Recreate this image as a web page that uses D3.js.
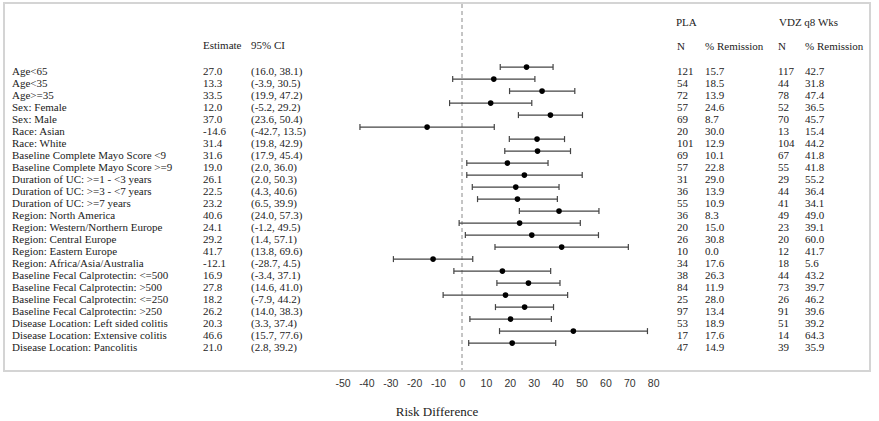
<!DOCTYPE html>
<html>
<head>
<meta charset="utf-8">
<script src="https://cdn.jsdelivr.net/npm/d3@7"></script>
<style>
  body { margin: 0; background: #fff; }
</style>
</head>
<body>
<div id="chart"></div>
<script>
// subgroup labels
const labels = [
    "Age<65", "Age<35", "Age>=35", "Sex: Female", "Sex: Male",
    "Race: Asian", "Race: White",
    "Baseline Complete Mayo Score <9", "Baseline Complete Mayo Score >=9",
    "Duration of UC: >=1 - <3 years", "Duration of UC: >=3 - <7 years", "Duration of UC: >=7 years",
    "Region: North America", "Region: Western/Northern Europe", "Region: Central Europe",
    "Region: Eastern Europe", "Region: Africa/Asia/Australia",
    "Baseline Fecal Calprotectin: <=500", "Baseline Fecal Calprotectin: >500",
    "Baseline Fecal Calprotectin: <=250", "Baseline Fecal Calprotectin: >250",
    "Disease Location: Left sided colitis", "Disease Location: Extensive colitis",
    "Disease Location: Pancolitis"
];
const estimate = [27.0, 13.3, 33.5, 12.0, 37.0, -14.6, 31.4, 31.6, 19.0, 26.1, 22.5, 23.2,
    40.6, 24.1, 29.2, 41.7, -12.1, 16.9, 27.8, 18.2, 26.2, 20.3, 46.6, 21.0];
const ciLow = [16.0, -3.9, 19.9, -5.2, 23.6, -42.7, 19.8, 17.9, 2.0, 2.0, 4.3, 6.5,
    24.0, -1.2, 1.4, 13.8, -28.7, -3.4, 14.6, -7.9, 14.0, 3.3, 15.7, 2.8];
const ciHigh = [38.1, 30.5, 47.2, 29.2, 50.4, 13.5, 42.9, 45.4, 36.0, 50.3, 40.6, 39.9,
    57.3, 49.5, 57.1, 69.6, 4.5, 37.1, 41.0, 44.2, 38.3, 37.4, 77.6, 39.2];
const plaN = [121, 54, 72, 57, 69, 20, 101, 69, 57, 31, 36, 55, 36, 20, 26, 10, 34, 38, 84, 25, 97, 53, 17, 47];
const plaRem = [15.7, 18.5, 13.9, 24.6, 8.7, 30.0, 12.9, 10.1, 22.8, 29.0, 13.9, 10.9,
    8.3, 15.0, 30.8, 0.0, 17.6, 26.3, 11.9, 28.0, 13.4, 18.9, 17.6, 14.9];
const vdzN = [117, 44, 78, 52, 70, 13, 104, 67, 55, 29, 44, 41, 49, 23, 20, 12, 18, 44, 73, 26, 91, 51, 14, 39];
const vdzRem = [42.7, 31.8, 47.4, 36.5, 45.7, 15.4, 44.2, 41.8, 41.8, 55.2, 36.4, 34.1,
    49.0, 39.1, 60.0, 41.7, 5.6, 43.2, 39.7, 46.2, 39.6, 39.2, 64.3, 35.9];
const xTicks = [-50, -40, -30, -20, -10, 0, 10, 20, 30, 40, 50, 60, 70, 80];

const rows = labels.map((d, i) => ({
    label: d, est: estimate[i], lo: ciLow[i], hi: ciHigh[i],
    plaN: plaN[i], plaRem: plaRem[i], vdzN: vdzN[i], vdzRem: vdzRem[i]
}));

const width = 879, height = 421;
const frame = {left: 4, top: 3, right: 870, bottom: 371};
const serif = "'Liberation Serif', 'Times New Roman', serif";
const sans = "'Liberation Sans', Arial, sans-serif";

const svg = d3.select("#chart").append("svg")
    .attr("width", width)
    .attr("height", height)
    .style("font-family", serif);

const xScale = d3.scaleLinear().domain([-50, 80]).range([342.5, 653.2]);
const yScale = d3.scalePoint().domain(labels).range([70.7, 346.7]);
const barShift = -3.6;

// frame
svg.append("rect")
    .attr("x", frame.left).attr("y", frame.top)
    .attr("width", frame.right - frame.left)
    .attr("height", frame.bottom - frame.top)
    .attr("fill", "none")
    .attr("stroke", "#d4d4d4")
    .attr("stroke-width", 2);

// reference line at 0
svg.append("line")
    .attr("x1", xScale(0)).attr("x2", xScale(0))
    .attr("y1", frame.top + 1).attr("y2", frame.bottom - 1)
    .attr("stroke", "#8a8a8a")
    .attr("stroke-width", 1)
    .attr("stroke-dasharray", "4,3");

// column headers
const headers = [
    {text: "Estimate", x: 203, y: 45},
    {text: "95% CI", x: 251, y: 45},
    {text: "PLA", x: 676, y: 22},
    {text: "N", x: 677, y: 46},
    {text: "% Remission", x: 705, y: 46},
    {text: "VDZ q8 Wks", x: 779, y: 22},
    {text: "N", x: 778, y: 46},
    {text: "% Remission", x: 805, y: 46}
];
svg.append("g").selectAll("text")
    .data(headers)
    .join("text")
    .attr("x", d => d.x)
    .attr("y", d => d.y)
    .attr("dy", "0.35em")
    .style("font-family", serif)
    .style("font-size", "11px")
    .style("fill", "#222")
    .text(d => d.text);

// table columns
const columns = [
    {x: 12, f: d => d.label},
    {x: 203, f: d => d.est.toFixed(1)},
    {x: 251, f: d => "(" + d.lo.toFixed(1) + ", " + d.hi.toFixed(1) + ")"},
    {x: 677, f: d => d.plaN},
    {x: 705, f: d => d.plaRem.toFixed(1)},
    {x: 778, f: d => d.vdzN},
    {x: 805, f: d => d.vdzRem.toFixed(1)}
];
columns.forEach(col => {
    svg.append("g").selectAll("text")
        .data(rows)
        .join("text")
        .attr("x", col.x)
        .attr("y", d => yScale(d.label))
        .attr("dy", "0.35em")
        .style("font-family", serif)
        .style("font-size", "11px")
        .style("fill", "#222")
        .text(col.f);
});

// CI bars
const ci = svg.append("g").selectAll("g")
    .data(rows)
    .join("g")
    .attr("transform", d => `translate(0,${yScale(d.label) + barShift})`);

ci.append("line")
    .attr("x1", d => xScale(d.lo)).attr("x2", d => xScale(d.hi))
    .attr("stroke", "#444").attr("stroke-width", 1.4);
ci.append("line")
    .attr("x1", d => xScale(d.lo)).attr("x2", d => xScale(d.lo))
    .attr("y1", -3).attr("y2", 3)
    .attr("stroke", "#444").attr("stroke-width", 1.2);
ci.append("line")
    .attr("x1", d => xScale(d.hi)).attr("x2", d => xScale(d.hi))
    .attr("y1", -3).attr("y2", 3)
    .attr("stroke", "#444").attr("stroke-width", 1.2);
ci.append("circle")
    .attr("cx", d => xScale(d.est))
    .attr("r", 2.8)
    .attr("fill", "#000");

// x axis
const axis = svg.append("g")
    .attr("transform", "translate(0,379)")
    .call(d3.axisBottom(xScale).tickValues(xTicks).tickSize(0).tickPadding(1)
        .tickFormat(d => String(d)));
axis.select(".domain").remove();
axis.selectAll(".tick text")
    .style("font-family", sans)
    .style("font-size", "10.5px")
    .style("fill", "#333");

svg.append("text")
    .attr("x", 437)
    .attr("y", 411)
    .attr("dy", "0.35em")
    .attr("text-anchor", "middle")
    .style("font-family", serif)
    .style("font-size", "13px")
    .style("fill", "#222")
    .text("Risk Difference");
</script>
</body>
</html>
